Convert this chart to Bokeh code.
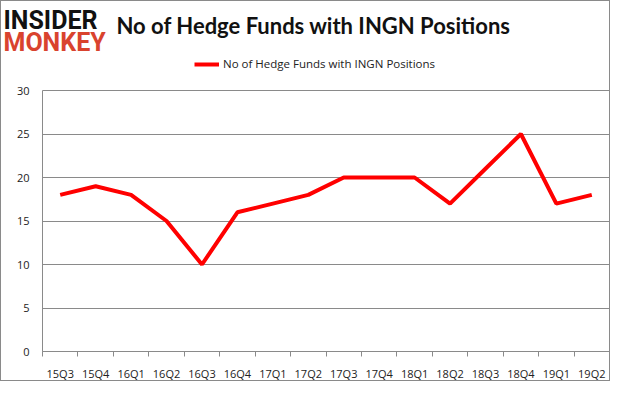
from bokeh.plotting import figure
from bokeh.models import FixedTicker, Range1d, Legend, LegendItem, ColumnDataSource, Label
from bokeh.embed import file_html
from bokeh.resources import INLINE

quarters = ["15Q3", "15Q4", "16Q1", "16Q2", "16Q3", "16Q4", "17Q1", "17Q2",
            "17Q3", "17Q4", "18Q1", "18Q2", "18Q3", "18Q4", "19Q1", "19Q2"]
funds = [18, 19, 18, 15, 10, 16, 17, 18, 20, 20, 20, 17, 21, 25, 17, 18]
y_ticks = [0, 5, 10, 15, 20, 25, 30]
y_max = 30
series_name = "No of Hedge Funds with INGN Positions"
logo_top = "INSIDER"
logo_bottom = "MONKEY"

# ---- layout constants (pixels) ----
W, H = 610, 381
CW, CH = W, H
PLOT_L, PLOT_R = 41, 608    # data area left/right
PLOT_T, PLOT_B = 89, 350    # y of the 30 gridline / the x axis
n = len(quarters)
ppx = (PLOT_R - PLOT_L) / n
ppy = (PLOT_B - PLOT_T) / y_max
x_start = -PLOT_L / ppx
x_end = n + (CW - PLOT_R) / ppx
y_start = -(CH - PLOT_B) / ppy
y_end = y_max + PLOT_T / ppy

xs = [i + 0.5 for i in range(n)]
src = ColumnDataSource(dict(x=xs, y=funds))

p = figure(width=W, height=H, output_backend="svg", toolbar_location=None,
           x_range=Range1d(x_start, x_end), y_range=Range1d(y_start, y_end),
           min_border=0)
p.styles = {"border": "1px solid #8a8a8a", "box-sizing": "border-box"}
p.outline_line_color = None

r = p.line("x", "y", source=src, line_color="#ff0000", line_width=4)

p.xgrid.grid_line_color = None
p.ygrid.grid_line_color = "#8a8a8a"
p.ygrid.ticker = FixedTicker(ticks=y_ticks)
p.ygrid.cross_bounds = (0, n)

p.yaxis.ticker = FixedTicker(ticks=y_ticks)
p.yaxis.fixed_location = 0
p.yaxis.bounds = (0, y_max)
p.yaxis.axis_line_color = "#8a8a8a"
p.yaxis.major_tick_line_color = None
p.yaxis.minor_tick_line_color = None
p.yaxis.major_tick_out = 0
p.yaxis.major_tick_in = 0
p.yaxis.major_label_standoff = 13
p.yaxis.major_label_text_font = "Open Sans"
p.yaxis.major_label_text_font_size = "11px"
p.yaxis.major_label_text_color = "#222222"

p.xaxis.ticker = FixedTicker(ticks=xs, minor_ticks=list(range(n + 1)))
p.xaxis.major_label_overrides = {x: q for x, q in zip(xs, quarters)}
p.xaxis.fixed_location = 0
p.xaxis.bounds = (0, n)
p.xaxis.axis_line_color = "#8a8a8a"
p.xaxis.major_tick_line_color = None
p.xaxis.minor_tick_line_color = "#8a8a8a"
p.xaxis.minor_tick_in = 0
p.xaxis.minor_tick_out = 5
p.xaxis.major_label_standoff = 8
p.xaxis.major_label_text_font = "Open Sans"
p.xaxis.major_label_text_font_size = "11px"
p.xaxis.major_label_text_color = "#222222"

lg = Legend(items=[LegendItem(label=series_name, renderers=[r])],
            location=(193, 311), orientation="horizontal")
lg.padding = 0
lg.margin = 0
lg.border_line_color = None
lg.background_fill_alpha = 0
lg.glyph_width = 25
lg.glyph_height = 12
lg.label_height = 12
lg.label_standoff = 4
lg.label_text_font = "Open Sans"
lg.label_text_font_size = "11.5px"
lg.label_text_color = "#222222"
p.add_layout(lg, "center")

p.add_layout(Label(x=2, y=362, x_units="screen", y_units="screen", text=logo_top,
                   text_font="Roboto", text_font_style="bold", text_font_size="25px",
                   text_color="#111111", text_baseline="alphabetic"))
p.add_layout(Label(x=2, y=340, x_units="screen", y_units="screen", text=logo_bottom,
                   text_font="Roboto", text_font_style="bold", text_font_size="25px",
                   text_color="#d9432e", text_baseline="alphabetic"))
p.add_layout(Label(x=115, y=357, x_units="screen", y_units="screen", text=series_name,
                   text_font="Lato", text_font_style="bold", text_font_size="22px",
                   text_color="#111111", text_baseline="alphabetic"))

open("out.html", "w").write(file_html(p, INLINE))
